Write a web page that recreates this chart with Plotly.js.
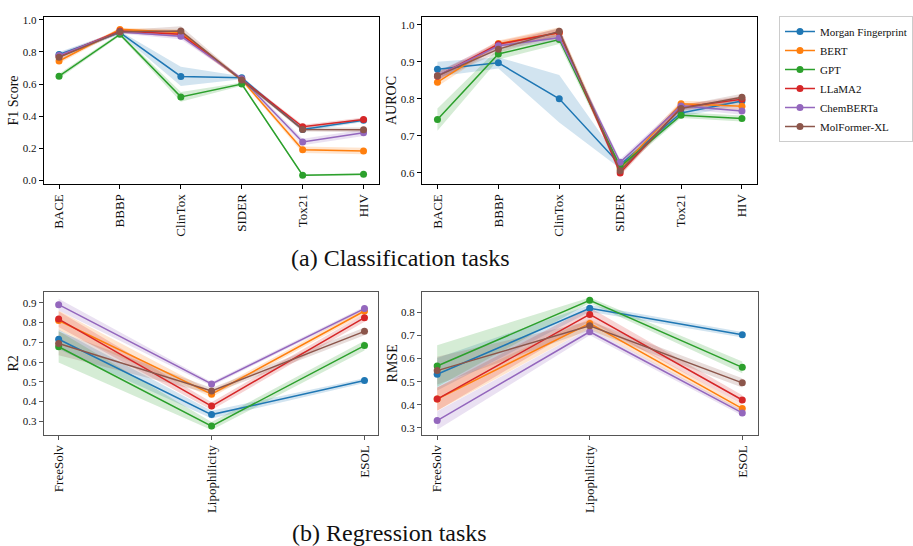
<!DOCTYPE html>
<html>
<head>
<meta charset="utf-8">
<script src="https://cdn.plot.ly/plotly-3.0.1.min.js"></script>
<style>html,body{margin:0;padding:0;background:#fff;}#chart{width:913px;height:546px;}</style>
</head>
<body>
<div id="chart"></div>
<script>
// ---------- Data ----------
const seriesNames = ["Morgan Fingerprint", "BERT", "GPT", "LLaMA2", "ChemBERTa", "MolFormer-XL"];
const seriesColors = ["#1f77b4", "#ff7f0e", "#2ca02c", "#d62728", "#9467bd", "#8c564b"];
const seriesFills = ["rgba(31,119,180,0.2)", "rgba(255,127,14,0.2)", "rgba(44,160,44,0.2)", "rgba(214,39,40,0.2)", "rgba(148,103,189,0.2)", "rgba(140,86,75,0.2)"];

const clsTasks = ["BACE", "BBBP", "ClinTox", "SIDER", "Tox21", "HIV"];
const regTasks = ["FreeSolv", "Lipophilicity", "ESOL"];

// F1 Score (mean)
const f1Morgan    = [0.784, 0.920, 0.647, 0.639, 0.317, 0.375];
const f1BERT      = [0.743, 0.940, 0.920, 0.626, 0.191, 0.183];
const f1GPT       = [0.649, 0.909, 0.520, 0.600, 0.033, 0.039];
const f1LLaMA2    = [0.774, 0.930, 0.910, 0.629, 0.334, 0.380];
const f1ChemBERTa = [0.778, 0.924, 0.898, 0.633, 0.239, 0.297];
const f1MolFormer = [0.766, 0.925, 0.930, 0.625, 0.317, 0.315];
// F1 Score (spread)
const f1MorganSd    = [0.015, 0.010, 0.060, 0.010, 0.012, 0.012];
const f1BERTSd      = [0.015, 0.010, 0.020, 0.010, 0.020, 0.020];
const f1GPTSd       = [0.015, 0.010, 0.030, 0.010, 0.006, 0.006];
const f1LLaMA2Sd    = [0.010, 0.010, 0.020, 0.010, 0.012, 0.012];
const f1ChemBERTaSd = [0.015, 0.010, 0.020, 0.010, 0.020, 0.020];
const f1MolFormerSd = [0.015, 0.010, 0.030, 0.010, 0.012, 0.015];

// AUROC (mean)
const aucMorgan    = [0.880, 0.897, 0.800, 0.622, 0.762, 0.794];
const aucBERT      = [0.845, 0.949, 0.978, 0.612, 0.787, 0.780];
const aucGPT       = [0.744, 0.921, 0.960, 0.617, 0.756, 0.747];
const aucLLaMA2    = [0.861, 0.947, 0.979, 0.600, 0.777, 0.799];
const aucChemBERTa = [0.862, 0.943, 0.965, 0.629, 0.781, 0.767];
const aucMolFormer = [0.862, 0.934, 0.982, 0.606, 0.774, 0.804];
// AUROC (spread)
const aucMorganSd    = [0.020, 0.015, 0.064, 0.010, 0.010, 0.010];
const aucBERTSd      = [0.012, 0.008, 0.015, 0.010, 0.008, 0.010];
const aucGPTSd       = [0.030, 0.015, 0.012, 0.010, 0.008, 0.008];
const aucLLaMA2Sd    = [0.010, 0.008, 0.010, 0.008, 0.008, 0.008];
const aucChemBERTaSd = [0.012, 0.008, 0.010, 0.008, 0.008, 0.010];
const aucMolFormerSd = [0.012, 0.010, 0.010, 0.010, 0.008, 0.010];

// R2 (mean)
const r2Morgan    = [0.715, 0.334, 0.506];
const r2BERT      = [0.810, 0.437, 0.858];
const r2GPT       = [0.677, 0.276, 0.683];
const r2LLaMA2    = [0.817, 0.377, 0.824];
const r2ChemBERTa = [0.890, 0.489, 0.870];
const r2MolFormer = [0.694, 0.453, 0.755];
// R2 (spread)
const r2MorganSd    = [0.050, 0.020, 0.012];
const r2BERTSd      = [0.050, 0.015, 0.015];
const r2GPTSd       = [0.080, 0.020, 0.025];
const r2LLaMA2Sd    = [0.040, 0.020, 0.020];
const r2ChemBERTaSd = [0.030, 0.010, 0.010];
const r2MolFormerSd = [0.060, 0.015, 0.020];

// RMSE (mean)
const rmseMorgan    = [0.532, 0.817, 0.703];
const rmseBERT      = [0.425, 0.752, 0.384];
const rmseGPT       = [0.568, 0.852, 0.562];
const rmseLLaMA2    = [0.425, 0.791, 0.421];
const rmseChemBERTa = [0.332, 0.716, 0.365];
const rmseMolFormer = [0.548, 0.742, 0.495];
// RMSE (spread)
const rmseMorganSd    = [0.070, 0.015, 0.012];
const rmseBERTSd      = [0.050, 0.020, 0.015];
const rmseGPTSd       = [0.090, 0.012, 0.025];
const rmseLLaMA2Sd    = [0.050, 0.030, 0.020];
const rmseChemBERTaSd = [0.040, 0.015, 0.012];
const rmseMolFormerSd = [0.060, 0.020, 0.020];

// ---------- Build ----------
const panels = [
  {cats: clsTasks, xa: "x",  ya: "y",  legend: true,
   means: [f1Morgan, f1BERT, f1GPT, f1LLaMA2, f1ChemBERTa, f1MolFormer],
   sds: [f1MorganSd, f1BERTSd, f1GPTSd, f1LLaMA2Sd, f1ChemBERTaSd, f1MolFormerSd]},
  {cats: clsTasks, xa: "x2", ya: "y2", legend: false,
   means: [aucMorgan, aucBERT, aucGPT, aucLLaMA2, aucChemBERTa, aucMolFormer],
   sds: [aucMorganSd, aucBERTSd, aucGPTSd, aucLLaMA2Sd, aucChemBERTaSd, aucMolFormerSd]},
  {cats: regTasks, xa: "x3", ya: "y3", legend: false,
   means: [r2Morgan, r2BERT, r2GPT, r2LLaMA2, r2ChemBERTa, r2MolFormer],
   sds: [r2MorganSd, r2BERTSd, r2GPTSd, r2LLaMA2Sd, r2ChemBERTaSd, r2MolFormerSd]},
  {cats: regTasks, xa: "x4", ya: "y4", legend: false,
   means: [rmseMorgan, rmseBERT, rmseGPT, rmseLLaMA2, rmseChemBERTa, rmseMolFormer],
   sds: [rmseMorganSd, rmseBERTSd, rmseGPTSd, rmseLLaMA2Sd, rmseChemBERTaSd, rmseMolFormerSd]}
];

const traces = [];
panels.forEach(p => {
  const idx = p.cats.map((_, i) => i);
  p.means.forEach((m, s) => {
    const up = m.map((v, i) => v + p.sds[s][i]);
    const lo = m.map((v, i) => v - p.sds[s][i]);
    traces.push({
      x: idx.concat(idx.slice().reverse()),
      y: up.concat(lo.slice().reverse()),
      xaxis: p.xa, yaxis: p.ya, type: "scatter", mode: "lines",
      fill: "toself", fillcolor: seriesFills[s], line: {width: 0},
      showlegend: false, hoverinfo: "skip"
    });
  });
  p.means.forEach((m, s) => {
    traces.push({
      x: idx, y: m, xaxis: p.xa, yaxis: p.ya, type: "scatter", mode: "lines+markers",
      name: seriesNames[s], line: {color: seriesColors[s], width: 1.5},
      marker: {color: seriesColors[s], size: 7},
      showlegend: p.legend
    });
  });
});

const serif = "'Liberation Serif', 'Times New Roman', Times, serif";
function xax(domain, cats, range, frame) {
  return {domain: domain, range: range, tickmode: "array",
    tickvals: cats.map((_, i) => i), ticktext: cats, tickangle: -90,
    showgrid: false, zeroline: false, showline: true, mirror: true, linecolor: frame, linewidth: 1,
    ticks: "outside", ticklen: 4, tickcolor: frame, tickfont: {family: serif, size: 13, color: "#111"}};
}
function yax(domain, range, dtick, title, frame) {
  return {domain: domain, range: range, dtick: dtick, tickformat: ".1f",
    showgrid: false, zeroline: false, showline: true, mirror: true, linecolor: frame, linewidth: 1,
    ticks: "outside", ticklen: 4, tickcolor: frame, tickfont: {family: serif, size: 11, color: "#111"},
    title: {text: title, font: {family: serif, size: 14, color: "#111"}, standoff: 0}};
}
const W = 913, H = 546;
const topY = [1 - 184 / H, 1 - 17 / H];
const botY = [1 - 435 / H, 1 - 291.7 / H];
const layout = {
  width: W, height: H, margin: {l: 0, r: 0, t: 0, b: 0},
  paper_bgcolor: "#fff", plot_bgcolor: "#fff",
  font: {family: serif},
  xaxis:  Object.assign(xax([45 / W, 389 / W], clsTasks, [-0.25, 5.25], "#000"), {anchor: "y"}),
  yaxis:  Object.assign(yax(topY, [-0.022, 1.017], 0.2, "F1 Score", "#000"), {anchor: "x"}),
  xaxis2: Object.assign(xax([433 / W, 777 / W], clsTasks, [-0.26, 5.24], "#000"), {anchor: "y2"}),
  yaxis2: Object.assign(yax(topY, [0.5703, 1.0207], 0.1, "AUROC", "#000"), {anchor: "x2"}),
  xaxis3: Object.assign(xax([45 / W, 388 / W], regTasks, [-0.097, 2.087], "#555"), {anchor: "y3"}),
  yaxis3: Object.assign(yax(botY, [0.2308, 0.9556], 0.1, "R2", "#555"), {anchor: "x3"}),
  xaxis4: Object.assign(xax([433.3 / W, 778 / W], regTasks, [-0.1, 2.1], "#555"), {anchor: "y4"}),
  yaxis4: Object.assign(yax(botY, [0.2697, 0.889], 0.1, "RMSE", "#555"), {anchor: "x4"}),
  showlegend: true,
  legend: {x: 800 / W, y: 1 - 16 / H, xanchor: "left", yanchor: "top",
    bordercolor: "#cccccc", borderwidth: 1, bgcolor: "#fff",
    font: {family: serif, size: 11, color: "#111"}, itemwidth: 30, tracegroupgap: 0},
  annotations: [
    {text: "(a) Classification tasks", xref: "paper", yref: "paper", x: 411 / W, y: 1 - 258 / H,
     xanchor: "center", yanchor: "middle", showarrow: false, font: {family: serif, size: 24, color: "#111"}},
    {text: "(b) Regression tasks", xref: "paper", yref: "paper", x: 400 / W, y: 1 - 533 / H,
     xanchor: "center", yanchor: "middle", showarrow: false, font: {family: serif, size: 24, color: "#111"}}
  ]
};
Plotly.newPlot("chart", traces, layout, {displayModeBar: false, staticPlot: true});
</script>
</body>
</html>
